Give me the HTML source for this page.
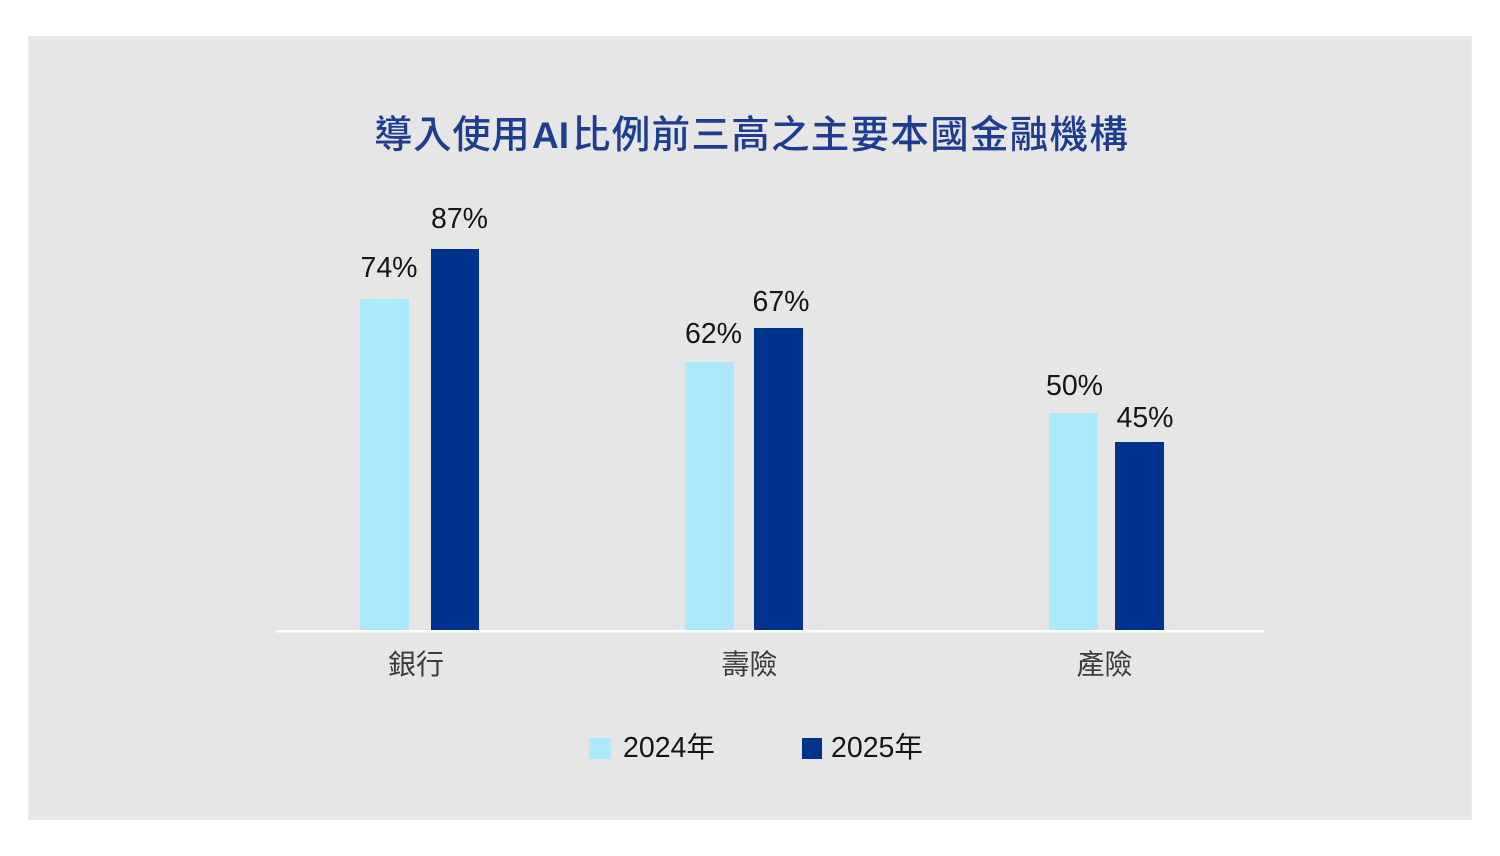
<!DOCTYPE html>
<html>
<head>
<meta charset="utf-8">
<style>
  html,body{margin:0;padding:0;background:#ffffff;}
  body{width:1500px;height:856px;overflow:hidden;}
  svg{display:block;}
  .pct{font-family:"Liberation Sans","Noto Sans CJK TC",sans-serif;font-size:28.5px;fill:#161616;}
  .cat{font-family:"Liberation Sans","Noto Sans CJK TC",sans-serif;font-size:28px;fill:#3c3c3c;}
  .ttl{font-family:"Noto Sans CJK TC","Noto Sans CJK SC",sans-serif;font-size:38.5px;font-weight:500;fill:#1f3d90;}
  .ttlai{font-family:"Liberation Sans",sans-serif;font-size:37px;font-weight:bold;fill:#1f3d90;}
  .leg{font-family:"Liberation Sans","Noto Sans CJK TC",sans-serif;font-size:28.5px;fill:#161616;}
</style>
</head>
<body>
<svg width="1500" height="856" viewBox="0 0 1500 856" xmlns="http://www.w3.org/2000/svg">
  <rect x="0" y="0" width="1500" height="856" fill="#ffffff"/>
  <rect x="28" y="36" width="1444" height="784" fill="#e6e6e6"/>
  <rect x="28.5" y="36.5" width="1443" height="783" fill="none" stroke="#ebebeb" stroke-width="1"/>

  <!-- Title -->
  <text class="ttl" x="374" y="148" letter-spacing="0.6">導入使用</text>
  <text class="ttlai" x="532" y="148">AI</text>
  <text class="ttl" x="572" y="148" letter-spacing="1.3">比例前三高之主要本國金融機構</text>

  <!-- Bars -->
  <rect x="360" y="299" width="49" height="331" fill="#ade9fc"/>
  <rect x="431" y="249" width="48" height="381" fill="#00338d"/>
  <rect x="685" y="362" width="49" height="268" fill="#ade9fc"/>
  <rect x="754" y="328" width="49" height="302" fill="#00338d"/>
  <rect x="1049" y="413" width="49" height="217" fill="#ade9fc"/>
  <rect x="1115" y="442" width="49" height="188" fill="#00338d"/>

  <!-- Axis -->
  <rect x="276" y="630" width="988" height="2.5" fill="#ffffff"/>

  <!-- Value labels -->
  <text class="pct" x="389" y="277" text-anchor="middle">74%</text>
  <text class="pct" x="459.5" y="228" text-anchor="middle">87%</text>
  <text class="pct" x="713.5" y="343" text-anchor="middle">62%</text>
  <text class="pct" x="781" y="311" text-anchor="middle">67%</text>
  <text class="pct" x="1074.5" y="395" text-anchor="middle">50%</text>
  <text class="pct" x="1145" y="427" text-anchor="middle">45%</text>

  <!-- Category labels -->
  <text class="cat" x="416" y="674" text-anchor="middle">銀行</text>
  <text class="cat" x="749.5" y="674" text-anchor="middle">壽險</text>
  <text class="cat" x="1104.5" y="674" text-anchor="middle">產險</text>

  <!-- Legend -->
  <rect x="589" y="738" width="22" height="21" fill="#ade9fc"/>
  <text class="leg" x="623" y="757">2024年</text>
  <rect x="802" y="738" width="20" height="21" fill="#00338d"/>
  <text class="leg" x="831" y="757">2025年</text>
</svg>
</body>
</html>
